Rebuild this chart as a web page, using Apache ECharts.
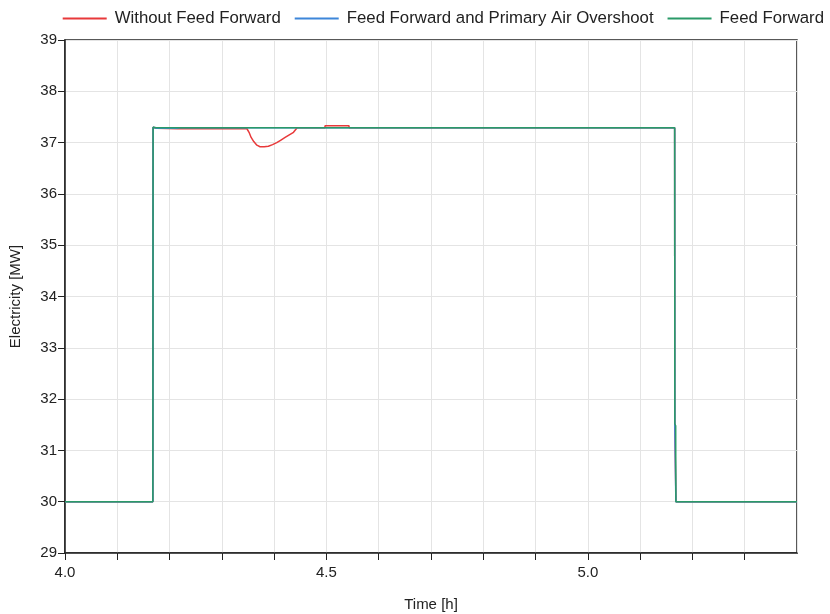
<!DOCTYPE html>
<html><head><meta charset="utf-8">
<script src="https://cdn.jsdelivr.net/npm/echarts@6/dist/echarts.min.js"></script>
<style>html,body{margin:0;padding:0;background:#fff}#c{width:830px;height:614px}</style>
</head><body><div id="c"></div>
<script>
const seriesNames = ['Without Feed Forward', 'Feed Forward and Primary Air Overshoot', 'Feed Forward'];
const xTickLabels = ['4.0', '4.5', '5.0'];
const yTicks = [29, 30, 31, 32, 33, 34, 35, 36, 37, 38, 39];

const timeWithout = [4.0, 4.168, 4.1685, 4.172, 4.175, 4.215, 4.348, 4.352, 4.356, 4.361, 4.367, 4.373, 4.381, 4.389, 4.397, 4.405, 4.413, 4.421, 4.429, 4.437, 4.444, 4.497, 4.4975, 4.543, 4.5435, 5.166, 5.1663, 5.1685, 5.170, 5.173, 5.4];
const valWithout  = [30.0, 30.0, 37.30, 37.31, 37.28, 37.27, 37.27, 37.20, 37.10, 37.02, 36.95, 36.92, 36.92, 36.93, 36.96, 37.00, 37.05, 37.10, 37.15, 37.20, 37.29, 37.29, 37.33, 37.33, 37.29, 37.29, 31.50, 30.00, 29.98, 30.0, 30.0];

const timeFFPA = [4.0, 4.168, 4.1685, 4.172, 4.175, 4.214, 4.22, 5.166, 5.1663, 5.168, 5.1683, 5.4];
const valFFPA  = [30.0, 30.0, 37.30, 37.31, 37.28, 37.28, 37.29, 37.29, 31.52, 31.50, 30.0, 30.0];

const timeFF = [4.0, 4.168, 4.1685, 4.172, 4.175, 5.166, 5.1663, 5.168, 5.1683, 5.170, 5.173, 5.4];
const valFF  = [30.0, 30.0, 37.30, 37.32, 37.29, 37.29, 31.52, 31.48, 30.0, 29.99, 30.0, 30.0];

const colors = ['#e8393a', '#3d86d9', '#2a9a68'];
const zip = (t, v) => t.map((x, i) => [x, v[i]]);
const font = 'Liberation Sans, Arial, sans-serif';

const chart = echarts.init(document.getElementById('c'), null, {renderer: 'canvas'});
chart.setOption({
  animation: false,
  color: colors,
  legend: {
    top: 5, right: 1, itemWidth: 44, itemHeight: 10, itemGap: 14,
    icon: 'path://M0,4 L44,4 L44,6 L0,6 Z',
    textStyle: {fontFamily: font, fontSize: 16.8, color: '#222', padding: [0, 1, 0, 3]},
    data: seriesNames
  },
  grid: {left: 65, right: 33, top: 40, bottom: 61, containLabel: false, outerBoundsMode: 'none', show: true, borderColor: '#222', borderWidth: 1.5},
  xAxis: {
    type: 'value', min: 4.0, max: 5.4, interval: 0.1,
    name: 'Time [h]', nameLocation: 'middle', nameGap: 44,
    nameTextStyle: {fontFamily: font, fontSize: 15, color: '#222'},
    axisLine: {lineStyle: {color: '#222', width: 1.5}},
    axisTick: {length: 7, lineStyle: {color: '#222'}},
    axisLabel: {
      fontFamily: font, fontSize: 15, color: '#222', margin: 12, showMaxLabel: false,
      formatter: v => { const s = v.toFixed(1); return xTickLabels.includes(s) ? s : ''; }
    },
    splitLine: {show: true, lineStyle: {color: '#e4e4e4'}}
  },
  yAxis: {
    type: 'value', min: yTicks[0], max: yTicks[yTicks.length - 1], interval: 1,
    name: 'Electricity [MW]', nameLocation: 'middle', nameGap: 42,
    nameTextStyle: {fontFamily: font, fontSize: 15, color: '#222'},
    axisLine: {show: true, lineStyle: {color: '#222', width: 1.5}},
    axisTick: {show: true, length: 7, lineStyle: {color: '#222'}},
    axisLabel: {fontFamily: font, fontSize: 15, color: '#222', margin: 8},
    splitLine: {show: true, lineStyle: {color: '#e4e4e4'}}
  },
  series: [
    {name: seriesNames[0], type: 'line', data: zip(timeWithout, valWithout), showSymbol: false, lineStyle: {width: 1.5}},
    {name: seriesNames[1], type: 'line', data: zip(timeFFPA, valFFPA), showSymbol: false, lineStyle: {width: 1.5}},
    {name: seriesNames[2], type: 'line', data: zip(timeFF, valFF), showSymbol: false, lineStyle: {width: 1.5}}
  ]
});
</script></body></html>
